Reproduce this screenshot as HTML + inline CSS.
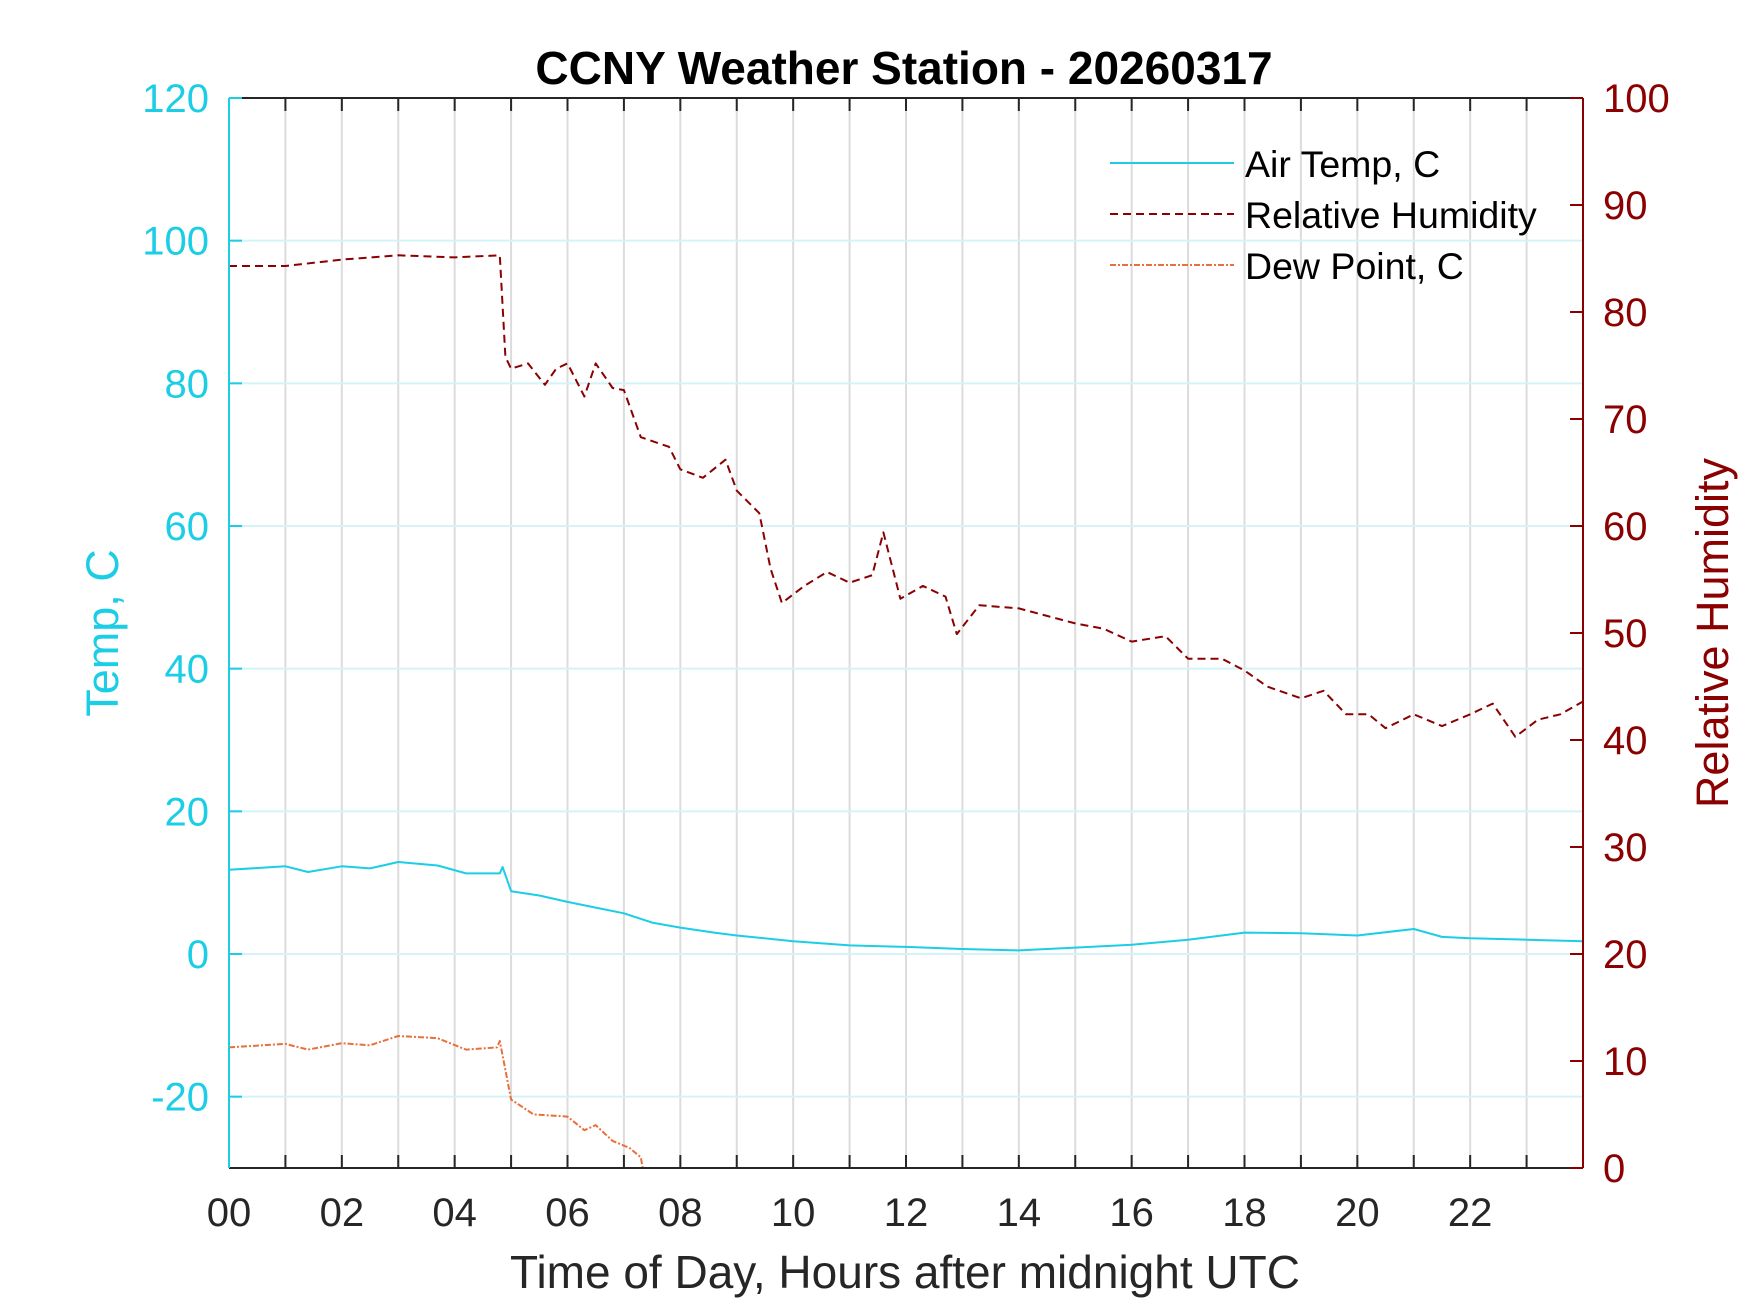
<!DOCTYPE html>
<html><head><meta charset="utf-8"><style>
html,body{margin:0;padding:0;background:#fff;}
svg{display:block;font-family:"Liberation Sans",Arial,sans-serif;}
</style></head><body>
<svg id="chart" width="1750" height="1313" viewBox="0 0 1750 1313" xmlns="http://www.w3.org/2000/svg">
<rect width="1750" height="1313" fill="#fff"/>
<g id="grid"></g>
<g id="series"></g>
<g id="axes"></g>
<text x="904" y="84" text-anchor="middle" font-size="46" font-weight="bold" fill="#000">CCNY Weather Station - 20260317</text>
<text x="905" y="1288" text-anchor="middle" font-size="46" fill="#262626">Time of Day, Hours after midnight UTC</text>
<text transform="translate(118,633) rotate(-90)" text-anchor="middle" font-size="45" fill="#1ccde6">Temp, C</text>
<text transform="translate(1728,633) rotate(-90)" text-anchor="middle" font-size="45" fill="#8b0000">Relative Humidity</text>
<g>
<line x1="1110" y1="163" x2="1234" y2="163" stroke="#1ccde6" stroke-width="2"/>
<text x="1245" y="177" font-size="37.5" fill="#000">Air Temp, C</text>
<line x1="1110" y1="214" x2="1234" y2="214" stroke="#8b0000" stroke-width="2" stroke-dasharray="8,5"/>
<text x="1245" y="228" font-size="37.5" fill="#000">Relative Humidity</text>
<line x1="1110" y1="265" x2="1234" y2="265" stroke="#e8703a" stroke-width="2" stroke-dasharray="6,2,2,2"/>
<text x="1245" y="279" font-size="37.5" fill="#000">Dew Point, C</text>
</g>
</svg>
<script>
const tempHours=[0,1,1.4,2,2.5,3,3.7,4.2,4.8,4.85,5,5.5,6,6.5,7,7.5,8,8.6,9,10,11,12,13,14,15,16,17,18,19,20,21,21.5,22,23,24];
const tempValues=[11.8,12.3,11.5,12.3,12.0,12.9,12.4,11.3,11.3,12.2,8.8,8.2,7.3,6.5,5.7,4.4,3.7,3.0,2.6,1.8,1.2,1.0,0.7,0.5,0.9,1.3,2.0,3.0,2.9,2.6,3.5,2.4,2.2,2.0,1.8];
const rhHours=[0,1,2,3,4,4.8,4.9,5,5.3,5.6,5.8,6,6.3,6.5,6.8,7,7.3,7.8,8,8.4,8.8,9,9.4,9.6,9.8,10.2,10.6,11,11.4,11.6,11.9,12.3,12.7,12.9,13.3,14,14.5,15,15.5,16,16.6,17,17.6,18,18.4,19,19.4,19.8,20.2,20.5,21,21.5,22,22.4,22.8,23.2,23.6,24];
const rhValues=[84.3,84.3,84.9,85.3,85.1,85.3,75.8,74.7,75.2,73.2,74.7,75.2,72.1,75.2,72.9,72.7,68.3,67.4,65.3,64.5,66.2,63.3,61.2,56.0,52.8,54.4,55.7,54.7,55.4,59.4,53.2,54.4,53.4,49.9,52.6,52.3,51.6,50.9,50.4,49.2,49.7,47.6,47.6,46.5,45.0,43.9,44.6,42.4,42.4,41.1,42.4,41.3,42.4,43.4,40.3,41.9,42.4,43.6];
const dewHours=[0,1,1.4,2,2.5,3,3.7,4.2,4.75,4.8,5,5.4,6,6.3,6.5,6.8,7.1,7.3,7.4];
const dewValues=[-13.1,-12.6,-13.4,-12.5,-12.8,-11.5,-11.8,-13.4,-13.1,-12.2,-20.4,-22.5,-22.8,-24.7,-24.0,-26.2,-27.2,-28.5,-33];
const xTicks=[0,2,4,6,8,10,12,14,16,18,20,22];
const xTickLabels=["00","02","04","06","08","10","12","14","16","18","20","22"];
const tTicks=[-20,0,20,40,60,80,100,120];
const rhTicks=[0,10,20,30,40,50,60,70,80,90,100];

const L=229,R=1583,T=98,B=1168,NS="http://www.w3.org/2000/svg";
const x=h=>L+h/24*(R-L);
const yT=v=>T+(120-v)/150*(B-T);
const yR=v=>T+(100-v)/100*(B-T);
function mk(tag,attrs,parent){const e=document.createElementNS(NS,tag);for(const k in attrs)e.setAttribute(k,attrs[k]);parent.appendChild(e);return e;}
const grid=document.getElementById('grid'),ser=document.getElementById('series'),ax=document.getElementById('axes');
const cp=mk('clipPath',{id:'clip'},document.getElementById('chart'));mk('rect',{x:L,y:T,width:R-L,height:B-T},cp);
for(let h=1;h<24;h++){const g=mk('line',{x1:x(h),x2:x(h),y1:T,y2:B,stroke:'#dcdcdc','stroke-width':2},grid);

}
tTicks.forEach(v=>{if(v===120)return;const g=mk('line',{x1:L,x2:R,y1:yT(v),y2:yT(v),stroke:'#d4f3f8','stroke-width':2},grid);

});
function path(hs,vs,yf,attrs,name){let d=hs.map((h,i)=>(i?'L':'M')+x(h).toFixed(1)+','+yf(vs[i]).toFixed(1)).join('');
const p=mk('path',Object.assign({d:d,fill:'none','clip-path':'url(#clip)','stroke-linejoin':'round'},attrs),ser);

}
path(tempHours,tempValues,yT,{stroke:'#1ccde6','stroke-width':2},'air-temp-line');
path(rhHours,rhValues,yR,{stroke:'#8b0000','stroke-width':2,'stroke-dasharray':'8,5'},'relative-humidity-line');
path(dewHours,dewValues,yT,{stroke:'#e8703a','stroke-width':2,'stroke-dasharray':'6,2,2,2'},'dew-point-line');
let e;
e=mk('line',{x1:L,x2:R,y1:T,y2:T,stroke:'#262626','stroke-width':2},ax);
e=mk('line',{x1:L,x2:R,y1:B,y2:B,stroke:'#262626','stroke-width':2},ax);
e=mk('line',{x1:L,x2:L,y1:T,y2:B,stroke:'#1ccde6','stroke-width':2},ax);
e=mk('line',{x1:R,x2:R,y1:T,y2:B,stroke:'#8b0000','stroke-width':2},ax);
for(let h=1;h<24;h++){
e=mk('line',{x1:x(h),x2:x(h),y1:B,y2:B-13,stroke:'#262626','stroke-width':2},ax);
e=mk('line',{x1:x(h),x2:x(h),y1:T,y2:T+13,stroke:'#262626','stroke-width':2},ax);}
xTicks.forEach((h,i)=>{const t=mk('text',{x:x(h),y:1226,'text-anchor':'middle','font-size':40,fill:'#262626'},ax);t.textContent=xTickLabels[i];

});
tTicks.forEach(v=>{e=mk('line',{x1:L,x2:L+13,y1:yT(v),y2:yT(v),stroke:'#1ccde6','stroke-width':2},ax);
const t=mk('text',{x:209,y:yT(v)+14,'text-anchor':'end','font-size':40,fill:'#1ccde6'},ax);t.textContent=v;

});
rhTicks.forEach(v=>{e=mk('line',{x1:R,x2:R-13,y1:yR(v),y2:yR(v),stroke:'#8b0000','stroke-width':2},ax);
const t=mk('text',{x:1603,y:yR(v)+14,'text-anchor':'start','font-size':40,fill:'#8b0000'},ax);t.textContent=v;

});
</script>
</body></html>
